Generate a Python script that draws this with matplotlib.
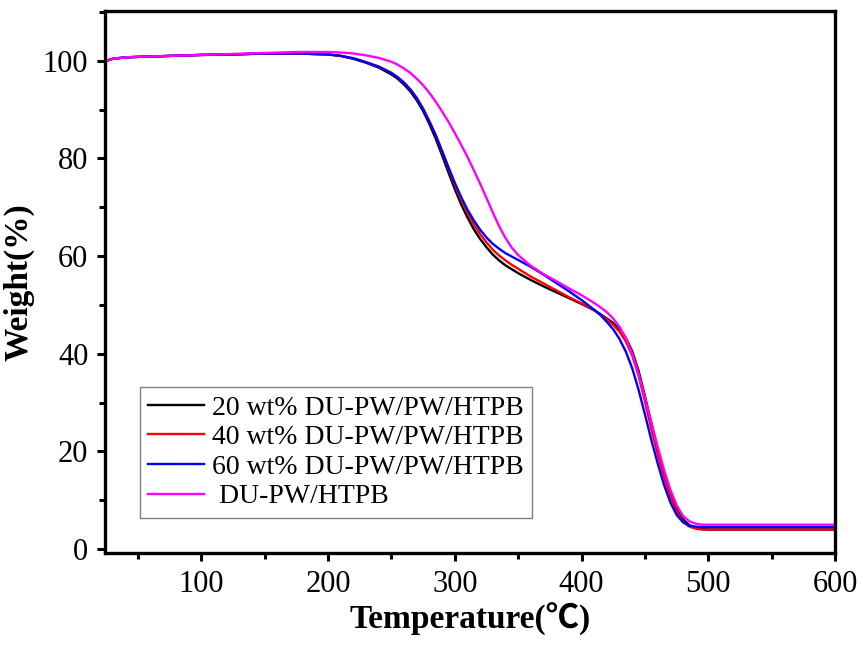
import numpy as np
import matplotlib
matplotlib.use("Agg")
import matplotlib.pyplot as plt
from matplotlib.ticker import MultipleLocator

plt.rcParams["font.family"] = ["Liberation Serif", "Noto Sans CJK SC", "DejaVu Sans"]

# ── Data ──────────────────────────────────────────────────────────────────────
temperature = [25, 30, 40, 50, 75, 100, 125, 150, 175, 200,
               210, 220, 230, 240, 250,
               255, 260, 265, 270, 275, 280, 285, 290, 295, 300,
               305, 310, 315, 320, 325, 330, 335, 340, 345, 350,
               360, 370, 380, 390, 400, 410,
               415, 420, 425, 430, 435, 440, 445, 450, 455, 460,
               465, 470, 475, 480, 485, 490, 495, 500,
               550, 600]

w_20 = [100.0, 100.4, 100.7, 100.8, 101.0, 101.2, 101.3, 101.5, 101.5, 101.3,
        101.0, 100.4, 99.6, 98.6, 97.2,
        96.3, 95.1, 93.7, 91.9, 89.7, 87.0, 84.0, 80.6, 77.1, 73.7,
        70.6, 67.9, 65.5, 63.5, 61.8, 60.3, 59.1, 58.1, 57.3, 56.5,
        55.1, 53.8, 52.6, 51.4, 50.2, 48.9,
        48.1, 47.2, 46.3, 45.0, 43.2, 40.5, 36.5, 31.3, 25.8, 20.5,
        15.6, 11.5, 8.3, 6.1, 4.9, 4.3, 4.1, 4.0,
        4.0, 4.0]

w_40 = [100.0, 100.4, 100.7, 100.8, 101.0, 101.2, 101.3, 101.5, 101.5, 101.3,
        101.0, 100.5, 99.7, 98.8, 97.5,
        96.6, 95.5, 94.1, 92.4, 90.2, 87.6, 84.7, 81.4, 78.0, 74.6,
        71.5, 68.8, 66.5, 64.5, 62.8, 61.3, 60.1, 59.1, 58.2, 57.4,
        55.8, 54.4, 53.0, 51.6, 50.3, 48.9,
        48.0, 47.0, 45.9, 44.5, 42.5, 39.6, 35.5, 30.2, 24.7, 19.5,
        14.8, 10.8, 7.7, 5.6, 4.6, 4.2, 4.0, 4.0,
        4.0, 4.0]

w_60 = [100.0, 100.4, 100.7, 100.8, 101.0, 101.2, 101.3, 101.5, 101.5, 101.3,
        101.0, 100.5, 99.7, 98.8, 97.5,
        96.6, 95.5, 94.1, 92.3, 90.1, 87.5, 84.7, 81.5, 78.2, 75.0,
        72.1, 69.5, 67.3, 65.4, 63.8, 62.5, 61.5, 60.6, 59.9, 59.2,
        57.8, 56.2, 54.5, 52.8, 51.0, 49.0,
        47.9, 46.5, 45.0, 43.0, 40.4, 37.0, 32.6, 27.6, 22.4, 17.6,
        13.2, 9.6, 7.0, 5.5, 4.8, 4.6, 4.5, 4.5,
        4.5, 4.5]

w_du = [100.0, 100.4, 100.7, 100.8, 101.0, 101.2, 101.4, 101.6, 101.8, 101.8,
        101.7, 101.5, 101.1, 100.6, 99.8,
        99.2, 98.4, 97.5, 96.3, 95.0, 93.4, 91.6, 89.6, 87.5, 85.2,
        82.8, 80.3, 77.6, 74.8, 71.9, 68.9, 66.1, 63.7, 61.7, 60.2,
        58.0, 56.3, 54.9, 53.4, 52.0, 50.4,
        49.5, 48.5, 47.2, 45.5, 43.2, 40.0, 35.9, 31.0, 26.0, 21.0,
        16.3, 12.2, 9.0, 6.8, 5.7, 5.2, 5.0, 5.0,
        5.0, 5.0]

series = [
    ("20 wt% DU-PW/PW/HTPB", w_20, "#000000"),
    ("40 wt% DU-PW/PW/HTPB", w_40, "#ff0000"),
    ("60 wt% DU-PW/PW/HTPB", w_60, "#0000ff"),
    (" DU-PW/HTPB",          w_du, "#ff00ff"),
]

# ── Figure ────────────────────────────────────────────────────────────────────
fig = plt.figure(figsize=(8.63, 6.46), dpi=100)
ax = fig.add_axes([0.1217, 0.144, 0.8459, 0.839])

for label, w, color in series:
    ax.plot(temperature, w, color=color, lw=1.7, label=label,
            solid_joinstyle="round")

ax.set_xlim(24, 600)
ax.set_ylim(-0.8, 110.2)
ax.xaxis.set_major_locator(MultipleLocator(100))
ax.xaxis.set_minor_locator(MultipleLocator(50))
ax.yaxis.set_major_locator(MultipleLocator(20))
ax.yaxis.set_minor_locator(MultipleLocator(10))

ax.tick_params(which="major", direction="out", length=6, width=2.2,
               labelsize=22, pad=6)
ax.tick_params(which="minor", direction="out", length=4, width=2.2)
for spine in ax.spines.values():
    spine.set_linewidth(2.4)

ax.set_xlabel("Temperature(℃)", fontsize=24, fontweight="bold", labelpad=2)
ax.set_ylabel("Weight(%)", fontsize=24, fontweight="bold", labelpad=6)

leg = ax.legend(loc="lower left", bbox_to_anchor=(0.048, 0.065),
                borderaxespad=0, fontsize=20, fancybox=False,
                edgecolor="#808080", framealpha=1, handlelength=2.0,
                handletextpad=0.3, labelspacing=0.15, borderpad=0.3)
leg.get_frame().set_linewidth(1.0)

fig.savefig("out.png", dpi=100)
